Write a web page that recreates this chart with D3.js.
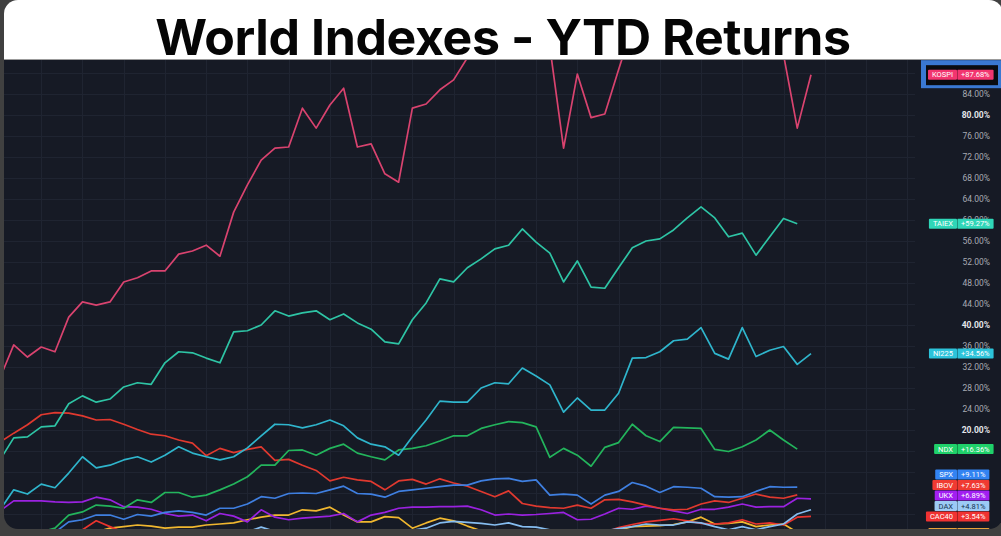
<!DOCTYPE html>
<html>
<head>
<meta charset="utf-8">
<script src="https://cdn.jsdelivr.net/npm/d3@7"></script>
<style>
  html, body { margin: 0; padding: 0; background: #404040; overflow: hidden; }
  svg { display: block; }
</style>
</head>
<body>
<div id="chart-area"></div>
<script>
// Chart data (YTD return, %), one value per weekly step //

const kospi = [29.9, 36.2, 33.9, 35.8, 34.9, 41.5, 44.4, 43.8, 44.4, 48.2,
  49.0, 50.3, 50.3, 53.5, 54.1, 55.2, 53.1, 61.5, 66.7, 71.4,
  73.7, 73.9, 81.3, 77.5, 81.9, 85.1, 73.9, 74.5, 68.8, 67.2,
  81.3, 82.1, 84.8, 86.7, 90.9, 93.5, 95.2, 97.0, 94.8, 96.5,
  93.0, 73.7, 87.8, 79.5, 80.2, 88.6, 96.8, 98.5, 101.2, 103.0,
  100.6, 102.4, 99.7, 97.8, 100.9, 98.3, 96.1, 91.5, 77.5, 87.68];

const taiex = [14.3, 18.5, 18.7, 20.6, 20.8, 25.0, 26.5, 25.3, 25.9, 28.2,
  29.0, 28.7, 32.8, 34.9, 34.7, 33.7, 32.8, 38.7, 38.9, 40.0,
  42.7, 41.7, 42.3, 42.7, 41.0, 42.1, 40.4, 39.2, 36.8, 36.4,
  41.0, 44.2, 48.8, 48.2, 50.9, 52.6, 54.5, 55.2, 58.3, 55.8,
  53.7, 48.2, 52.2, 47.2, 47.0, 50.9, 54.7, 56.0, 56.4, 58.1,
  60.4, 62.5, 60.4, 56.8, 57.5, 53.3, 56.8, 60.3, 59.27];

const ni225 = [4.8, 8.6, 7.8, 9.7, 9.0, 11.8, 14.9, 12.8, 13.3, 14.3,
  14.9, 13.9, 15.2, 16.8, 15.6, 14.9, 14.3, 14.9, 16.6, 18.9,
  21.1, 21.0, 20.4, 21.0, 21.9, 20.8, 18.5, 17.3, 16.8, 15.2,
  18.7, 21.9, 25.5, 25.3, 25.3, 28.0, 29.0, 28.8, 31.8, 30.3,
  28.6, 23.4, 26.1, 23.8, 23.8, 27.0, 33.7, 33.8, 34.9, 37.0,
  37.3, 39.5, 34.6, 33.5, 39.5, 34.0, 35.2, 35.9, 32.5, 34.56];

const ndx = [-0.5, -1.2, -0.8, 0.6, 1.3, 3.8, 4.4, 5.7, 5.5, 5.1,
  6.7, 6.2, 8.1, 8.1, 7.2, 7.6, 8.6, 9.7, 11.1, 13.3,
  13.3, 16.1, 16.2, 15.2, 16.5, 17.3, 15.6, 14.9, 14.3, 16.2,
  16.5, 17.0, 17.9, 18.9, 18.9, 20.3, 21.0, 21.6, 21.4, 20.6,
  14.8, 16.5, 15.2, 13.1, 16.7, 17.6, 21.1, 18.9, 17.8, 20.5,
  20.4, 20.3, 16.3, 15.9, 16.8, 18.1, 20.0, 18.1, 16.36];

const spx = [-1.5, -2.0, -1.0, -0.3, 0.5, 2.5, 2.9, 3.8, 3.8, 3.0,
  3.9, 3.6, 4.3, 4.6, 4.3, 3.8, 5.1, 5.1, 5.9, 7.3,
  7.0, 7.9, 8.0, 7.9, 8.6, 9.3, 7.9, 7.8, 7.2, 8.3,
  8.6, 8.9, 9.2, 9.5, 9.5, 10.3, 10.7, 10.8, 10.2, 10.5,
  7.6, 7.8, 7.6, 5.9, 7.6, 8.3, 10.0, 9.3, 8.1, 9.2,
  9.1, 8.9, 7.3, 7.2, 7.3, 8.3, 9.2, 9.1, 9.11];

const ibov = [17.7, 19.4, 21.0, 22.9, 23.3, 23.2, 22.7, 21.9, 22.0, 21.1,
  20.1, 19.2, 18.9, 18.1, 17.5, 15.1, 16.5, 15.7, 16.3, 16.8,
  14.2, 14.4, 13.3, 12.3, 10.3, 11.0, 10.5, 10.2, 8.6, 10.3,
  10.6, 9.7, 10.7, 9.9, 9.3, 8.3, 7.3, 8.4, 6.0, 5.5,
  5.2, 5.1, 5.7, 5.1, 6.7, 6.8, 6.3, 5.7, 5.1, 4.8,
  4.9, 5.9, 6.5, 6.2, 7.0, 7.8, 7.2, 7.0, 7.63];

const ukx = [4.6, 6.5, 6.5, 6.5, 6.3, 6.2, 6.3, 7.2, 6.7, 5.4,
  5.3, 4.9, 4.1, 3.6, 3.8, 2.7, 4.1, 3.6, 2.5, 4.8,
  3.4, 2.9, 3.2, 3.4, 3.6, 4.1, 2.5, 3.8, 4.3, 5.1,
  5.3, 5.3, 5.4, 5.4, 5.5, 4.8, 3.8, 4.0, 3.8, 3.9,
  4.1, 4.3, 2.9, 3.0, 4.0, 5.1, 4.9, 5.5, 5.1, 4.6,
  4.1, 4.9, 4.9, 5.3, 5.9, 5.3, 5.4, 5.4, 7.0, 6.89];

const dax = [-0.8, -1.2, -0.5, -0.9, -0.3, 0.2, -0.4, 0.1, 0.5, 0.0,
  0.4, 0.7, 0.2, 0.6, 0.3, 0.8, 0.5, 0.9, 0.6, 1.5,
  0.7, 0.3, 0.6, 0.2, 0.5, 0.1, -0.2, 0.3, 0.6, 0.4,
  0.9, 1.3, 2.3, 2.6, 2.4, 2.2, 1.9, 2.3, 1.6, 1.5,
  1.0, 0.6, 0.3, 0.5, 0.8, 1.2, 1.6, 2.1, 1.9, 1.9,
  2.5, 2.3, 1.6, 1.0, 1.6, 1.0, 1.6, 2.1, 4.0, 4.81];

const cac40 = [-1.0, -1.8, -1.2, -0.5, -0.4, 0.3, 1.0, 2.7, 1.6, 0.5,
  -0.5, -1.0, -1.4, -0.8, -1.6, -2.1, -1.7, -1.3, -0.9, -1.5,
  -2.0, -2.4, -1.9, -1.2, -0.7, -1.1, -1.8, -2.2, -2.6, -2.0,
  -1.4, -0.9, -1.3, -0.8, -0.4, -0.9, -1.5, -1.1, -0.6, -0.3,
  -0.8, -1.2, -0.7, -0.2, 0.5, 1.4, 2.0, 2.5, 2.8, 3.1,
  2.7, 2.2, 2.1, 2.3, 2.9, 2.1, 2.3, 1.9, 3.4, 3.54];

const nifty = [-1.0, -2.0, -1.5, -0.8, -1.2, -0.5, -0.2, 0.6, 1.3, 1.6,
  1.9, 1.7, 1.3, 1.5, 1.5, 1.9, 2.1, 2.3, 2.9, 3.4,
  3.8, 3.8, 4.8, 4.6, 5.3, 3.8, 2.5, 2.5, 3.5, 3.3,
  1.3, 2.3, 3.2, 2.7, 1.7, 0.8, 0.3, -0.5, 0.0, -1.0,
  -0.6, 0.2, -0.3, 0.1, 0.5, 0.9, 1.6, 1.7, 1.8, 2.0,
  2.5, 3.4, 2.1, 2.2, 2.5, 1.6, 1.9, 2.1, 0.5, 0.4];

const names = ["KOSPI", "TAIEX", "NI225", "NDX", "SPX", "IBOV", "UKX", "DAX", "CAC40", "NIFTY"];
const values = [kospi, taiex, ni225, ndx, spx, ibov, ukx, dax, cac40, nifty];
const lineColors = ["#d9436f", "#2ec4a5", "#2fb5cc", "#23b45c", "#3f7fe0", "#e0392f", "#9a22e0", "#86bdf0", "#e8342e", "#f0b72f"];
const tagColors = ["#f2356f", "#2fd6b8", "#2cc3da", "#1fd16a", "#3283f2", "#f03a32", "#a21ff2", "#9ccbf5", "#f03232", "#e8a23a"];
const tagText = ["#fff", "#fff", "#fff", "#fff", "#fff", "#fff", "#fff", "#16324f", "#fff", "#fff"];

// grid every 4%, labels only where the tags leave them visible
const gridTicks = [4, 8, 12, 16, 20, 24, 28, 32, 36, 40, 44, 48, 52, 56, 60, 64, 68, 72, 76, 80, 84, 88];
const labelTicks = [20, 24, 28, 32, 36, 40, 44, 48, 52, 56, 60, 64, 68, 72, 76, 80, 84];
const boldTicks = [20, 40, 80];

// Configure canvas //

const W = 1001, H = 536;
const panel = {left: 4, top: 0, right: 1003, bottom: 529};
const plotTop = 60, plotRight = 915;

const svg = d3.select("#chart-area")
  .append("svg")
  .attr("width", W)
  .attr("height", H);

const defs = svg.append("defs");
defs.append("clipPath").attr("id", "panel-clip")
  .append("rect")
  .attr("x", panel.left).attr("y", panel.top)
  .attr("width", panel.right - panel.left).attr("height", panel.bottom - panel.top)
  .attr("rx", 14).attr("ry", 14);
defs.append("clipPath").attr("id", "plot-clip")
  .append("rect")
  .attr("x", panel.left).attr("y", plotTop)
  .attr("width", panel.right - panel.left).attr("height", panel.bottom - plotTop);

svg.append("rect").attr("width", W).attr("height", H).attr("fill", "#404040");

const g = svg.append("g").attr("clip-path", "url(#panel-clip)");

// title panel
g.append("rect")
  .attr("x", 0).attr("y", 0).attr("width", W + 5).attr("height", plotTop)
  .attr("fill", "#ffffff");
g.append("text")
  .attr("x", 503)
  .attr("y", 55)
  .attr("text-anchor", "middle")
  .attr("font-family", "Inter, 'Liberation Sans', sans-serif")
  .attr("font-weight", 700)
  .attr("font-size", "50px")
  .attr("letter-spacing", "-0.4px")
  .attr("fill", "#050505")
  .text("World Indexes - YTD Returns");

// dark chart background
g.append("rect")
  .attr("x", 0).attr("y", plotTop).attr("width", W + 5).attr("height", H - plotTop)
  .attr("fill", "#161a25");
g.append("line")
  .attr("x1", 0).attr("x2", W + 5).attr("y1", plotTop - 0.5).attr("y2", plotTop - 0.5)
  .attr("stroke", "#9b9b9b").attr("stroke-width", 1);

// Scales
const xScale = d3.scaleLinear()
  .domain([0, kospi.length - 1])
  .range([0, 811]);

const yScale = d3.scaleLinear()
  .domain([0, 84])
  .range([535, 94]);

// Grid
const grid = g.append("g").attr("class", "grid");
grid.selectAll(".hgrid").data(gridTicks).enter()
  .append("line")
  .attr("class", "hgrid")
  .attr("x1", panel.left).attr("x2", plotRight)
  .attr("y1", d => Math.round(yScale(d)) + 0.5)
  .attr("y2", d => Math.round(yScale(d)) + 0.5)
  .attr("stroke", "#1f2431").attr("stroke-width", 1);
grid.selectAll(".vgrid").data(d3.range(3, 67, 3)).enter()
  .append("line")
  .attr("class", "vgrid")
  .attr("x1", d => Math.round(xScale(d)) + 0.5)
  .attr("x2", d => Math.round(xScale(d)) + 0.5)
  .attr("y1", plotTop).attr("y2", panel.bottom)
  .attr("stroke", "#1f2431").attr("stroke-width", 1);

// Lines
const line = d3.line()
  .x((d, i) => xScale(i))
  .y(d => yScale(d));

const series = names.map((n, i) => ({
  name: n, data: values[i], color: lineColors[i],
  tag: tagColors[i], text: tagText[i], last: values[i][values[i].length - 1]
}));

const lines = g.append("g").attr("clip-path", "url(#plot-clip)");
// draw bottom series first so the big movers sit on top
lines.selectAll("path").data(series.slice().reverse()).enter()
  .append("path")
  .attr("d", d => line(d.data))
  .attr("fill", "none")
  .attr("stroke", d => d.color)
  .attr("stroke-width", 1.7)
  .attr("stroke-linejoin", "round");

// Y Axis (right side)
const yAxisCall = d3.axisRight(yScale)
  .tickValues(labelTicks)
  .tickSize(0)
  .tickFormat(d => d.toFixed(2) + "%");
const yAxis = g.append("g")
  .attr("class", "y axis")
  .attr("transform", "translate(990,0)")
  .call(yAxisCall);
yAxis.select(".domain").remove();
yAxis.selectAll("text")
  .attr("x", 0)
  .attr("dy", "0.35em")
  .attr("text-anchor", "end")
  .attr("font-family", "Roboto, 'Liberation Sans', sans-serif")
  .attr("font-size", "8.5px")
  .attr("font-weight", d => boldTicks.includes(d) ? 700 : 400)
  .attr("fill", d => boldTicks.includes(d) ? "#e4e6ea" : "#a7aab3");

// Last value tags, stacked upward when they collide
const tagGap = 10.5;
const tags = series.map(s => ({...s, y: yScale(s.last)}))
  .sort((a, b) => b.last - a.last);
for (let i = tags.length - 2; i >= 0; i--) {
  tags[i].y = Math.min(tags[i].y, tags[i + 1].y - tagGap);
}

const split = 957;
const tagG = g.append("g").attr("class", "tags");

// highlight frame around the KOSPI tag
const leadTag = tags[0];
tagG.append("rect")
  .attr("x", 921).attr("y", leadTag.y - 14.5).attr("width", 82).attr("height", 28)
  .attr("fill", "#3a78d2");
tagG.append("rect")
  .attr("x", 926).attr("y", leadTag.y - 9.5).attr("width", 72).attr("height", 20)
  .attr("fill", "#0a0c11");

tags.forEach(t => {
  const tg = tagG.append("g").attr("transform", "translate(0," + t.y + ")");
  const nameRect = tg.append("rect");
  const valRect = tg.append("rect");
  const nameTxt = tg.append("text")
    .attr("y", 0).attr("dy", "0.35em")
    .attr("text-anchor", "middle")
    .attr("font-family", "Roboto, 'Liberation Sans', sans-serif")
    .attr("font-size", "7.5px")
    .attr("fill", t.text)
    .text(t.name);
  const valTxt = tg.append("text")
    .attr("y", 0).attr("dy", "0.35em")
    .attr("text-anchor", "middle")
    .attr("font-family", "Roboto, 'Liberation Sans', sans-serif")
    .attr("font-size", "7.5px")
    .attr("fill", t.text)
    .text((t.last >= 0 ? "+" : "") + t.last.toFixed(2) + "%");
  const nw = nameTxt.node().getComputedTextLength() + 8;
  const vw = valTxt.node().getComputedTextLength() + 8;
  nameRect.attr("x", split - nw).attr("y", -5).attr("width", nw).attr("height", 10)
    .attr("rx", 1).attr("fill", t.tag);
  valRect.attr("x", split).attr("y", -5).attr("width", vw).attr("height", 10)
    .attr("rx", 1).attr("fill", t.tag);
  tg.append("line")
    .attr("x1", split + 0.5).attr("x2", split + 0.5).attr("y1", -5).attr("y2", 5)
    .attr("stroke", "rgba(0,0,0,0.3)").attr("stroke-width", 1);
  nameTxt.attr("x", split - nw / 2);
  valTxt.attr("x", split + vw / 2);
  // a tag pushed below the panel edge only shows as a sliver, no text
  if (t.y + 5 > panel.bottom) { nameTxt.remove(); valTxt.remove(); }
});
</script>
</body>
</html>
